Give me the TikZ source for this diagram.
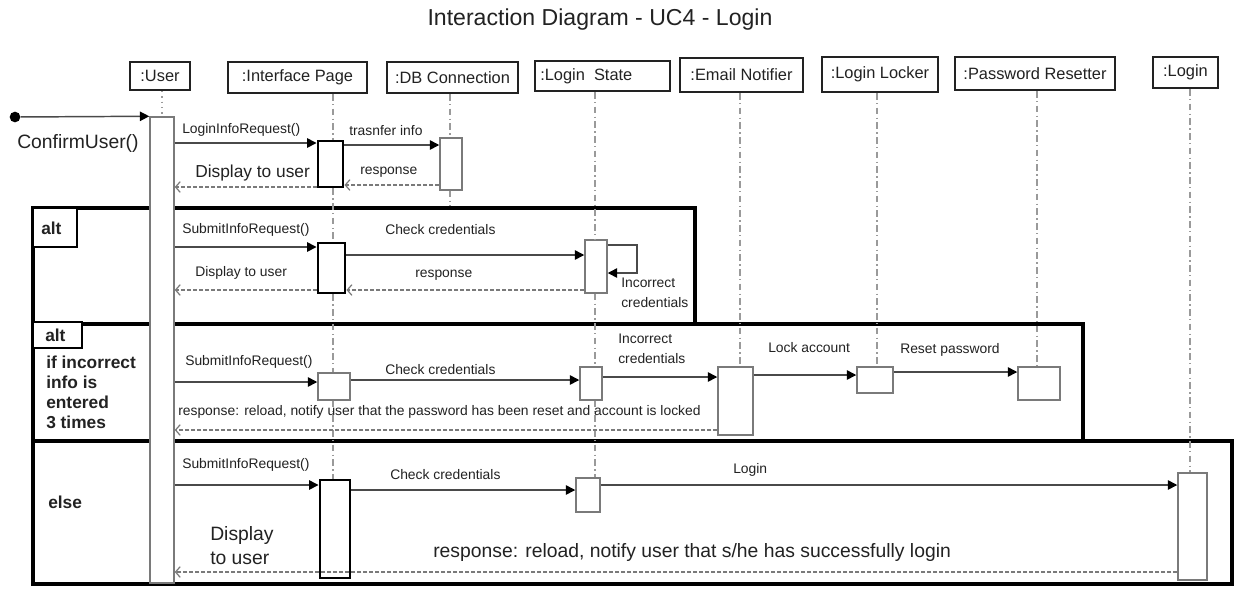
\documentclass[tikz,border=0pt]{standalone}
\usepackage{fontspec}
\setmainfont{Liberation Sans}
\usetikzlibrary{arrows.meta,fit}
\definecolor{ink}{HTML}{222222}
\definecolor{wire}{HTML}{4A4A4A}
\definecolor{lifegray}{HTML}{9A9A9A}
\definecolor{bargray}{HTML}{7A7A7A}

\begin{document}
\begin{tikzpicture}[x=0.75pt,y=-0.75pt,
  every node/.style={text=ink, inner sep=0pt},
  head/.style={draw=ink, line width=1.5pt, fill=white, inner sep=0pt},
  headtxt/.style={font=\fontsize{12.3}{14}\selectfont},
  lifeline/.style={draw=lifegray, line width=1.1pt, dash pattern=on 5pt off 2.5pt on 1pt off 2.5pt},
  userline/.style={draw=lifegray, line width=1.1pt, dash pattern=on 1pt off 3pt},
  actbar/.style={draw=bargray, line width=1.1pt, fill=white, inner sep=0pt},
  actbold/.style={draw=black, line width=2.2pt, fill=white, inner sep=0pt},
  frame/.style={draw=black, line width=2.3pt, inner sep=0pt},
  tagbox/.style={draw=black, line width=2.2pt, fill=white, inner sep=0pt},
  msg/.style={draw=wire, line width=1.1pt, -{Triangle[length=7pt,width=7pt,color=black]}},
  ret/.style={draw=bargray, line width=0.9pt, dash pattern=on 3pt off 1.5pt, -{Straight Barb[length=3.5pt,width=8pt]}},
  lbl/.style={font=\fontsize{10.4}{14.5}\selectfont, anchor=west, align=left},
  midlbl/.style={font=\fontsize{13}{15}\selectfont, anchor=west},
  biglbl/.style={font=\fontsize{14.5}{18}\selectfont, anchor=west, align=left},
  guard/.style={font=\bfseries\fontsize{13}{15}\selectfont, anchor=west, align=left},
]
\useasboundingbox (0,0) rectangle (1235,590);
\fill[white] (0,0) rectangle (1235,590);

% title
\node[font=\fontsize{17.3}{20}\selectfont] (title) at (600,20) {Interaction Diagram - UC4 - Login};

% object heads
\node[head, fit={(130,62)(190,90)}] (hu) {};
\node[headtxt] (tu) at (hu.center) {:User};
\node[head, fit={(228,62)(367,93)}] (hip) {};
\node[headtxt] (tip) at (hip.center) {:Interface Page};
\node[head, fit={(387,62)(518,93)}] (hdb) {};
\node[headtxt] (tdb) at (hdb.center) {:DB Connection};
\node[head, fit={(535,61)(670,91)}] (hls) {};
\node[headtxt, anchor=west] (tls) at (540,76) {:Login\ \ State};
\node[head, fit={(680,58)(803,92)}] (hen) {};
\node[headtxt] (ten) at (hen.center) {:Email Notifier};
\node[head, fit={(822,57)(938,92)}] (hll) {};
\node[headtxt] (tll) at (hll.center) {:Login Locker};
\node[head, fit={(955,57)(1115,90)}] (hpr) {};
\node[headtxt] (tpr) at (hpr.center) {:Password Resetter};
\node[head, fit={(1153,57)(1218,88)}] (hlg) {};
\node[headtxt] (tlg) at (hlg.center) {:Login};

% lifeline x positions
\coordinate (xu) at (162,0);
\coordinate (xip) at (333,0);
\coordinate (xdb) at (450,0);
\coordinate (xls) at (595,0);
\coordinate (xen) at (740,0);
\coordinate (xll) at (877,0);
\coordinate (xpr) at (1037,0);
\coordinate (xlg) at (1190,0);

% combined fragments
\node[frame, fit={(33,208)(695,324)}] (f1) {};
\node[frame, fit={(33,324)(1083,441)}] (f2) {};
\node[frame, fit={(33,441)(1232,584)}] (f3) {};

% activation bars
\node[actbar, fit={(150,117)(174,583)}] (ub) {};
\node[actbold, fit={(318,141)(343,187)}] (ip1) {};
\node[actbar, fit={(440,138)(462,190)}] (db1) {};
\node[actbold, fit={(318,243)(345,293)}] (ip2) {};
\node[actbar, fit={(585,240)(607,293)}] (ls1) {};
\node[actbar, fit={(318,373)(350,400)}] (ip3) {};
\node[actbar, fit={(580,367)(602,400)}] (ls2) {};
\node[actbar, fit={(718,367)(753,435)}] (en1) {};
\node[actbar, fit={(857,367)(893,393)}] (ll1) {};
\node[actbar, fit={(1018,367)(1060,400)}] (pr1) {};
\node[actbold, fit={(320,480)(350,578)}] (ip4) {};
\node[actbar, fit={(576,478)(600,512)}] (ls3) {};
\node[actbar, fit={(1178,473)(1207,580)}] (lg1) {};

% lifelines between the bars
\draw[userline] (hu.south -| xu) -- (xu |- ub.north);
\draw[lifeline] (hip.south -| xip) -- (xip |- ip1.north);
\draw[lifeline] (xip |- ip1.south) -- (xip |- ip2.north);
\draw[lifeline] (xip |- ip2.south) -- (xip |- ip3.north);
\draw[lifeline] (xip |- ip3.south) -- (xip |- ip4.north);
\draw[lifeline] (hdb.south -| xdb) -- (xdb |- db1.north);
\draw[lifeline] (xdb |- db1.south) -- (xdb |- f1.north);
\draw[lifeline] (hls.south -| xls) -- (xls |- ls1.north);
\draw[lifeline] (xls |- ls1.south) -- (xls |- ls2.north);
\draw[lifeline] (xls |- ls2.south) -- (xls |- ls3.north);
\draw[lifeline] (hen.south -| xen) -- (xen |- en1.north);
\draw[lifeline] (hll.south -| xll) -- (xll |- ll1.north);
\draw[lifeline] (hpr.south -| xpr) -- (xpr |- pr1.north);
\draw[lifeline] (hlg.south -| xlg) -- (xlg |- lg1.north);

% fragment tags and guards
\node[tagbox, fit={(33,208)(77,247)}] (tag1) {};
\node[guard] (alt1) at (41,228) {alt};
\node[tagbox, fit={(33,322)(82,348)}] (tag2) {};
\node[guard] (alt2) at (45,335) {alt};
\node[guard, anchor=north west] (g2) at (46,356) {if incorrect\\info is\\entered\\3 times};
\node[guard] (g3) at (48,502) {else};

% found message
\node[circle, fill=black, minimum size=8pt] (start) at (15,117) {};
\draw[msg] (start) -- (ub.north west);
\node[biglbl] (tconf) at (17,143) {ConfirmUser()};

% message rows
\coordinate (y1) at (0,143);
\coordinate (y2) at (0,145);
\coordinate (y3) at (0,185);
\coordinate (y4) at (0,187);
\coordinate (y5) at (0,247);
\coordinate (y6) at (0,255);
\coordinate (y7) at (0,290);
\coordinate (y8) at (0,382);
\coordinate (y9) at (0,380);
\coordinate (y10) at (0,377);
\coordinate (y11) at (0,375);
\coordinate (y12) at (0,372);
\coordinate (y13) at (0,430);
\coordinate (y14) at (0,485);
\coordinate (y15) at (0,490);
\coordinate (y16) at (0,572);

% first exchange
\draw[msg] (ub.east |- y1) -- (ip1.west |- y1);
\node[lbl] (l1) at (182,130) {LoginInfoRequest()};
\draw[msg] (ip1.east |- y2) -- (db1.west |- y2);
\node[lbl] (l2) at (349,131) {trasnfer info};
\draw[ret] (db1.west |- y3) -- (ip1.east |- y3);
\node[lbl] (l3) at (360,172) {response};
\draw[ret] (ip1.west |- y4) -- (ub.east |- y4);
\node[midlbl] (l4) at (195,173) {Display to user};

% first alternative
\draw[msg] (ub.east |- y5) -- (ip2.west |- y5);
\node[lbl] (l5) at (182,230) {SubmitInfoRequest()};
\draw[msg] (ip2.east |- y6) -- (ls1.west |- y6);
\node[lbl] (l6) at (385,230) {Check credentials};
\coordinate (sl1) at (637,245);
\coordinate (sl2) at (637,273);
\draw[msg] (ls1.east |- sl1) -- (sl1) -- (sl2) -- (ls1.east |- sl2);
\node[lbl, anchor=north west] (l7) at (621,278) {Incorrect\\credentials};
\draw[ret] (ls1.west |- y7) -- (ip2.east |- y7);
\node[lbl] (l8) at (415,275) {response};
\draw[ret] (ip2.west |- y7) -- (ub.east |- y7);
\node[lbl] (l9) at (195,273) {Display to user};

% second alternative
\draw[msg] (ub.east |- y8) -- (ip3.west |- y8);
\node[lbl] (l10) at (185,362) {SubmitInfoRequest()};
\draw[msg] (ip3.east |- y9) -- (ls2.west |- y9);
\node[lbl] (l11) at (385,370) {Check credentials};
\draw[msg] (ls2.east |- y10) -- (en1.west |- y10);
\node[lbl, anchor=north west] (l12) at (618,334) {Incorrect\\credentials};
\draw[msg] (en1.east |- y11) -- (ll1.west |- y11);
\node[lbl] (l13) at (768,348) {Lock account};
\draw[msg] (ll1.east |- y12) -- (pr1.west |- y12);
\node[lbl] (l14) at (900,350) {Reset password};
\draw[ret] (en1.west |- y13) -- (ub.east |- y13);
\node[lbl] (l15) at (178,412) {response: reload, notify user that the password has been reset and account is locked};

% else branch
\draw[msg] (ub.east |- y14) -- (ip4.west |- y14);
\node[lbl] (l16) at (182,465) {SubmitInfoRequest()};
\draw[msg] (ip4.east |- y15) -- (ls3.west |- y15);
\node[lbl] (l17) at (390,475) {Check credentials};
\draw[msg] (ls3.east |- y14) -- (lg1.west |- y14);
\node[lbl] (l18) at (733,470) {Login};
\draw[ret] (lg1.west |- y16) -- (ub.east |- y16);
\node[biglbl, anchor=north west] (l19) at (210,526) {Display\\to user};
\node[biglbl] (l20) at (433,552) {response: reload, notify user that s/he has successfully login};

\end{tikzpicture}
\end{document}
